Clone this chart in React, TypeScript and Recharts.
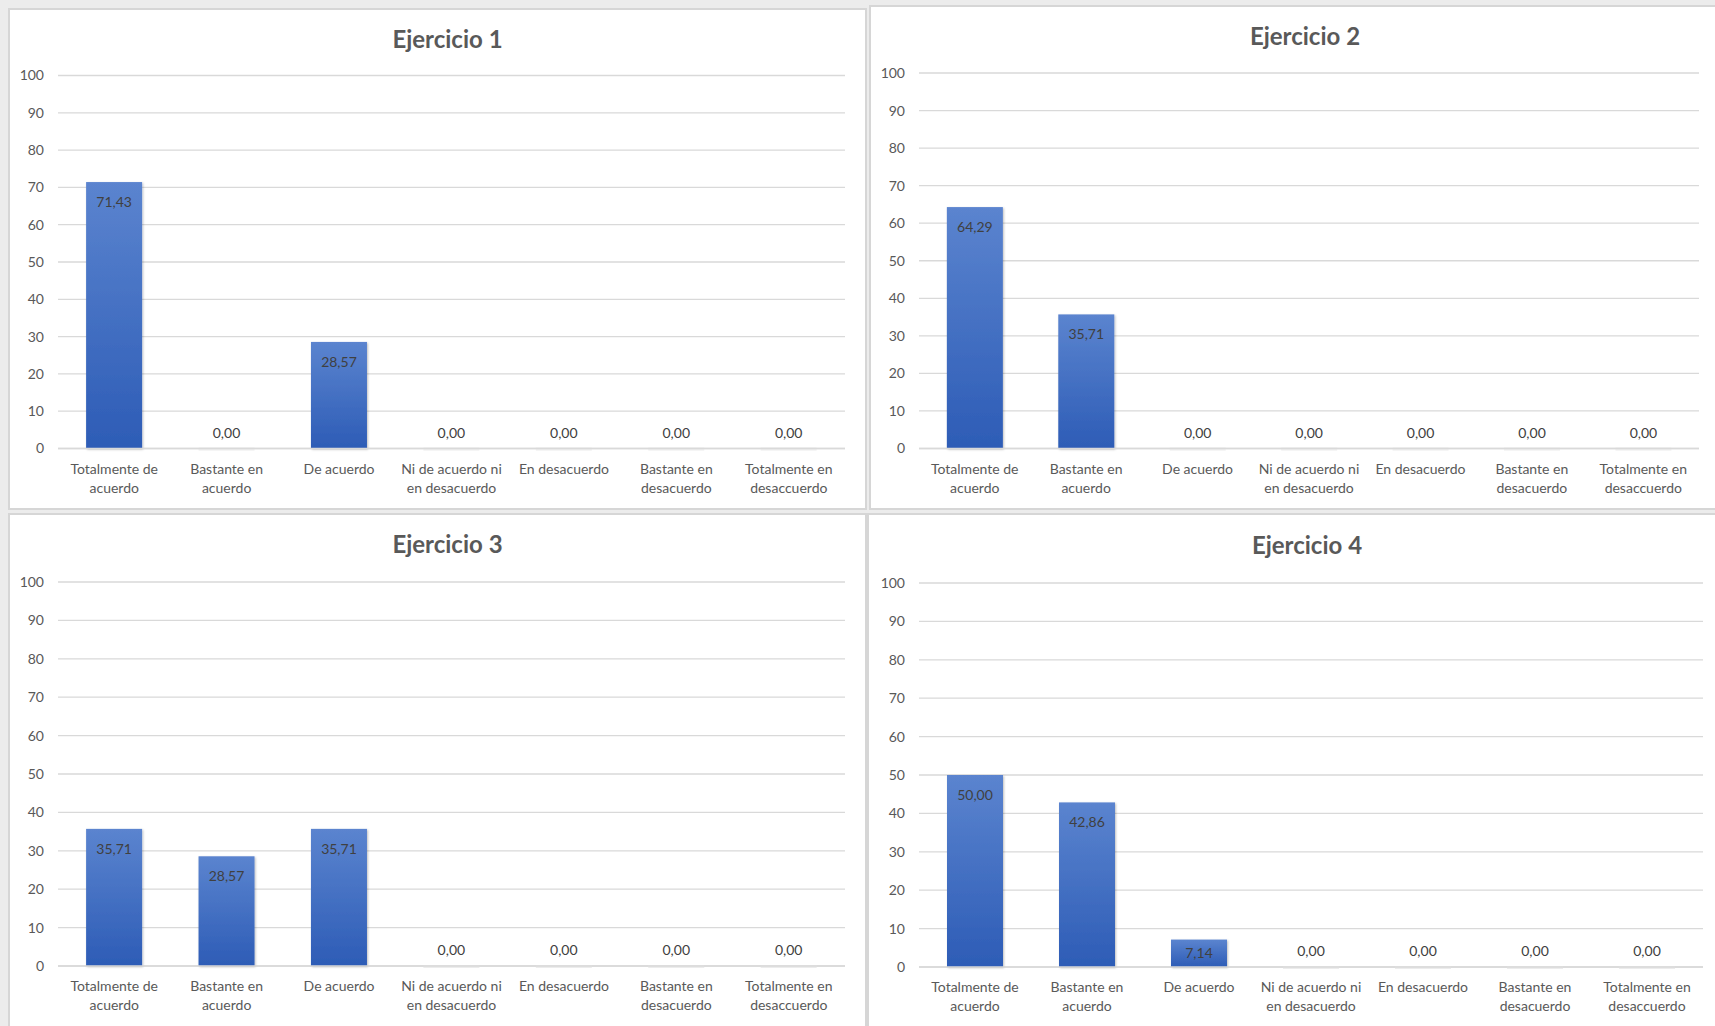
import React from 'react';
import { BarChart, Bar, XAxis, YAxis, CartesianGrid, LabelList } from 'recharts';

const categories = [
  'Totalmente de\nacuerdo',
  'Bastante en\nacuerdo',
  'De acuerdo',
  'Ni de acuerdo ni\nen desacuerdo',
  'En desacuerdo',
  'Bastante en\ndesacuerdo',
  'Totalmente en\ndesaccuerdo',
];

const ejercicio1 = [71.43, 0, 28.57, 0, 0, 0, 0];
const ejercicio2 = [64.29, 35.71, 0, 0, 0, 0, 0];
const ejercicio3 = [35.71, 28.57, 35.71, 0, 0, 0, 0];
const ejercicio4 = [50.0, 42.86, 7.14, 0, 0, 0, 0];

const yTicks = [0, 10, 20, 30, 40, 50, 60, 70, 80, 90, 100];

const FONT = 'Lato, "Open Sans", sans-serif';
const TEXT = '#595959';

const fmt = (v: number) => v.toFixed(2).replace('.', ',');

function CategoryTick(props: any) {
  const { x, y, payload } = props;
  const lines = String(payload.value).split('\n');
  return (
    <text x={x} y={y} textAnchor="middle" fill={TEXT} fontSize={14} fontFamily={FONT}>
      {lines.map((l, i) => (
        <tspan key={i} x={x} dy={i === 0 ? 17 : 19}>
          {l}
        </tspan>
      ))}
    </text>
  );
}

function ValueLabel(props: any) {
  const { x, y, width, height, value } = props;
  const cx = x + width / 2;
  const h = Math.abs(height);
  const cy = h < 4 ? y - 16 : y + Math.min(20, h / 2);
  return (
    <text x={cx} y={cy} dy={5} textAnchor="middle" fill="#404040" fontSize={14} fontFamily={FONT}>
      {fmt(Number(value))}
    </text>
  );
}

function BarShape(props: any) {
  const { x, y, width, height, gid } = props;
  if (!height || height < 1) {
    return <rect x={x} y={y - 1} width={width} height={3} fill="#ececec" />;
  }
  return <rect x={x} y={y} width={width} height={height} fill={`url(#${gid})`} filter={`url(#${gid}-sh)`} />;
}

interface PanelProps {
  id: string;
  title: string;
  values: number[];
  box: { left: number; top: number; width: number; height: number };
  plot: { left: number; top: number; right: number; bottom: number };
  titleY: number;
}

function Panel({ id, title, values, box, plot, titleY }: PanelProps) {
  const data = categories.map((c, i) => ({ name: c, value: values[i] }));
  const boxRight = box.left + box.width;
  const boxBottom = box.top + box.height;
  const xAxisHeight = 50;
  return (
    <div
      style={{
        position: 'absolute',
        left: box.left,
        top: box.top,
        width: box.width,
        height: box.height,
        boxSizing: 'border-box',
        border: '2px solid #d6d6d6',
        background: '#fff',
      }}
    >
      <div
        style={{
          position: 'absolute',
          left: plot.left - box.left - 206,
          width: plot.right - plot.left + 400,
          top: titleY - box.top - 16,
          textAlign: 'center',
          fontFamily: FONT,
          fontWeight: 700,
          fontSize: 24,
          lineHeight: '28px',
          color: TEXT,
        }}
      >
        {title}
      </div>
      <div style={{ position: 'absolute', left: -2, top: -2 }}>
        <BarChart
          width={box.width}
          height={box.height}
          data={data}
          barCategoryGap="25%"
          margin={{
            top: plot.top - box.top,
            right: boxRight - plot.right,
            bottom: boxBottom - plot.bottom - xAxisHeight,
            left: 0,
          }}
        >
          <defs>
            <linearGradient id={id} x1="0" y1="0" x2="0" y2="1">
              <stop offset="0%" stopColor="#5b84cf" />
              <stop offset="100%" stopColor="#2d5cb6" />
            </linearGradient>
            <filter id={`${id}-sh`} x="-20%" y="-20%" width="140%" height="140%">
              <feDropShadow dx="1" dy="1" stdDeviation="1.2" floodColor="#000" floodOpacity="0.25" />
            </filter>
          </defs>
          <CartesianGrid vertical={false} stroke="#d9d9d9" strokeWidth={1.3} />
          <XAxis
            dataKey="name"
            axisLine={{ stroke: '#d9d9d9', strokeWidth: 1.3 }}
            tickLine={false}
            interval={0}
            height={xAxisHeight}
            tick={<CategoryTick />}
          />
          <YAxis
            domain={[0, 100]}
            ticks={yTicks}
            interval={0}
            axisLine={false}
            tickLine={false}
            tickMargin={8}
            width={plot.left - box.left}
            tick={{ fill: TEXT, fontSize: 14, fontFamily: FONT }}
          />
          <Bar dataKey="value" isAnimationActive={false} shape={<BarShape gid={id} />}>
            <LabelList dataKey="value" content={<ValueLabel />} />
          </Bar>
        </BarChart>
      </div>
    </div>
  );
}

export default function App() {
  return (
    <div
      style={{
        position: 'absolute',
        left: 0,
        top: 0,
        width: 1715,
        height: 1026,
        overflow: 'hidden',
        background: '#ececec',
      }}
    >
      <Panel
        id="g1"
        title="Ejercicio 1"
        values={ejercicio1}
        box={{ left: 8, top: 8, width: 859, height: 502 }}
        plot={{ left: 58, top: 75.5, right: 845, bottom: 448.5 }}
        titleY={39}
      />
      <Panel
        id="g2"
        title="Ejercicio 2"
        values={ejercicio2}
        box={{ left: 869, top: 5, width: 850, height: 505 }}
        plot={{ left: 919, top: 73, right: 1699, bottom: 448.5 }}
        titleY={36}
      />
      <Panel
        id="g3"
        title="Ejercicio 3"
        values={ejercicio3}
        box={{ left: 8, top: 513, width: 859, height: 520 }}
        plot={{ left: 58, top: 582, right: 845, bottom: 966 }}
        titleY={544}
      />
      <Panel
        id="g4"
        title="Ejercicio 4"
        values={ejercicio4}
        box={{ left: 867, top: 513, width: 852, height: 520 }}
        plot={{ left: 919, top: 583, right: 1703, bottom: 967 }}
        titleY={545}
      />
    </div>
  );
}
